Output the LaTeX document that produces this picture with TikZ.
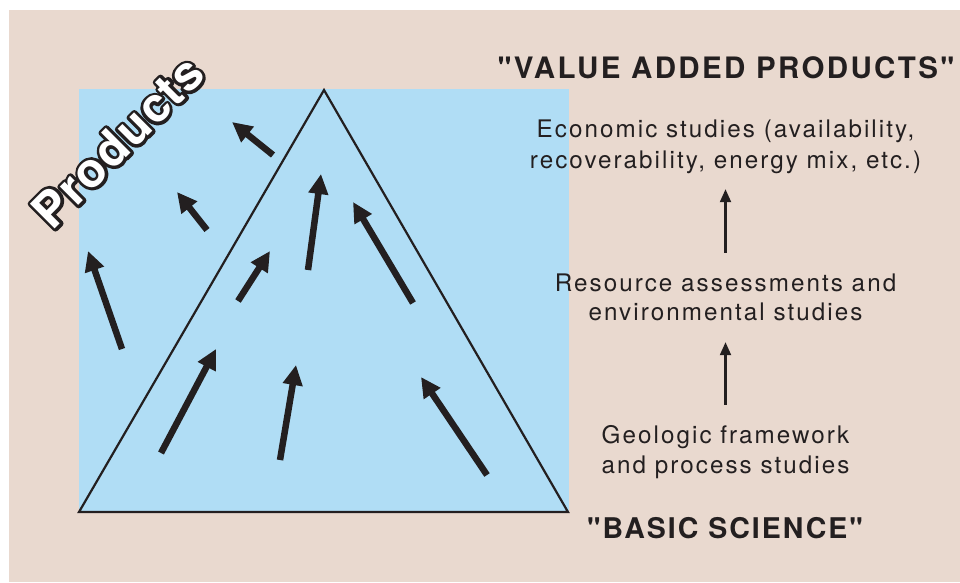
\documentclass[tikz,border=0pt]{standalone}
\usepackage{fontspec}
\setmainfont{TeX Gyre Heros}
\newfontfamily\lsfont[LetterSpace=8.5]{TeX Gyre Heros}
\newfontfamily\lsbfont[LetterSpace=8]{TeX Gyre Heros}
\newfontfamily\lsbfontb[LetterSpace=7]{TeX Gyre Heros}
\newfontfamily\prodfont[LetterSpace=3]{TeX Gyre Heros}
\usetikzlibrary{arrows.meta,calc}
\definecolor{bgbeige}{HTML}{E9D9CF}
\definecolor{skyblue}{HTML}{B0DDF5}
\definecolor{ink}{HTML}{231F20}
\newcommand\strokedtext[1]{\special{pdf:literal 2 Tr 0.137 0.122 0.125 RG 6 w 1 j}#1\special{pdf:literal 0 Tr}}
\begin{document}
\begin{tikzpicture}[x=1pt,y=-1pt,
  bigarrow/.style={ink, line width=6.5pt, -{Triangle[length=20pt,width=19pt]}},
  smallarrow/.style={ink, line width=2.2pt, -{Triangle[length=13pt,width=11pt]}},
  body/.style={ink, inner sep=0pt, anchor=base, font=\lsfont\fontsize{24.2}{28}\selectfont, text height=17pt, text depth=5pt},
  heading/.style={ink, inner sep=0pt, anchor=base},
  prod/.style={inner sep=0pt, anchor=base, rotate=45, font=\prodfont\bfseries\fontsize{48}{52}\selectfont}]
\useasboundingbox (0,0) rectangle (960,582);
\fill[white] (0,0) rectangle (960,582);
\fill[bgbeige] (9,10) rectangle (960,582);
\fill[skyblue] (79,89) rectangle (569,512);
\draw[ink, line width=2.2pt, line join=miter] (79,512) -- (324,90) -- (568,512) -- cycle;

% thick arrows
\draw[bigarrow] (273,155) -- (232,122);
\draw[bigarrow] (207,230) -- (177,192);
\draw[bigarrow] (122,349) -- (88,251);
\draw[bigarrow] (161,453) -- (216,349);
\draw[bigarrow] (238,301) -- (270,251);
\draw[bigarrow] (308,270) -- (321,174);
\draw[bigarrow] (413,303) -- (353,202);
\draw[bigarrow] (280,460) -- (296,365);
\draw[bigarrow] (487,475) -- (421,377);

% outlined Products: black stroked copy under a white copy
\node[prod, ink] (productsoutline) at (130,154) {\strokedtext{Products}};
\node[prod, white] (products) at (130,154) {Products};

% right column
\node[heading, font=\lsbfont\bfseries\fontsize{29.5}{34}\selectfont] (value) at (726,78) {"VALUE ADDED PRODUCTS"};
\node[body] (econA) at (725.5,137) {Economic studies (availability,};
\node[body] (econB) at (725.5,168) {recoverability, energy mix, etc.)};
\node[body] (resA) at (725.5,291) {Resource assessments and};
\node[body] (resB) at (725.5,320) {environmental studies};
\node[body] (geoA) at (725.5,443) {Geologic framework};
\node[body] (geoB) at (725.5,473) {and process studies};
\node[heading, font=\lsbfontb\bfseries\fontsize{28.5}{34}\selectfont] (basic) at (725,538) {"BASIC SCIENCE"};

\draw[smallarrow, shorten <=21pt, shorten >=16pt] (resA.north) -- (econB.south);
\draw[smallarrow, shorten <=21pt, shorten >=17pt] (geoA.north) -- (resB.south);
\end{tikzpicture}
\end{document}
